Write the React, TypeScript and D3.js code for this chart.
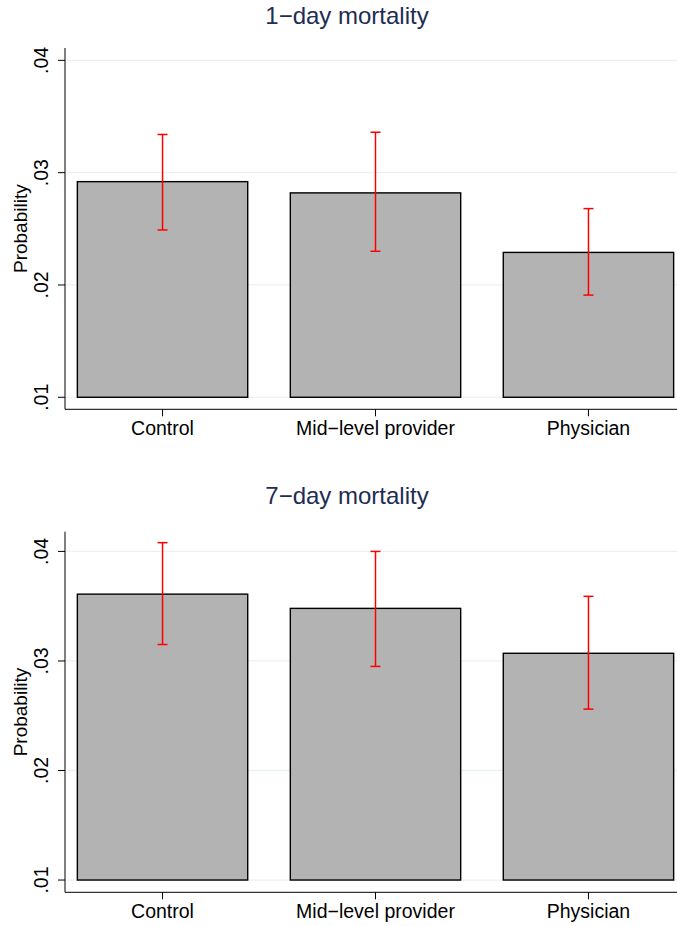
import React from "react";
import * as d3 from "d3";

const categories = ["Control", "Mid\u2212level provider", "Physician"];
const panelTitles = ["1\u2212day mortality", "7\u2212day mortality"];
const day1Mean = [0.0292, 0.0282, 0.0229];
const day1Lower = [0.0249, 0.0230, 0.0191];
const day1Upper = [0.0334, 0.0336, 0.0268];
const day7Mean = [0.0361, 0.0348, 0.0307];
const day7Lower = [0.0315, 0.0295, 0.0256];
const day7Upper = [0.0408, 0.0400, 0.0359];
const yTicks = [0.01, 0.02, 0.03, 0.04];
const yTickLabels = [".01", ".02", ".03", ".04"];
const yAxisTitle = "Probability";

const FONT = "'Liberation Sans', Arial, Helvetica, sans-serif";

type PanelProps = {
  title: string;
  mean: number[];
  lower: number[];
  upper: number[];
  titleY: number;
  axisTop: number;
  axisBottom: number;
  domain: [number, number];
};

function Panel({ title, mean, lower, upper, titleY, axisTop, axisBottom, domain }: PanelProps) {
  const left = 65;
  const right = 677;
  const x = d3.scaleBand<string>().domain(categories).range([65, 686]).paddingInner(0.2).paddingOuter(0.058);
  const y = d3.scaleLinear().domain(domain).range([axisBottom, axisTop]);
  const base = 0.01;
  const cap = 5;
  return (
    <g>
      <text x={347} y={titleY} textAnchor="middle" fontSize={24} fill="#1e2d53" fontFamily={FONT}>
        {title}
      </text>
      {yTicks.map((t) => (
        <line key={"g" + t} x1={left} x2={right} y1={y(t)} y2={y(t)} stroke="#eaf2f3" strokeWidth={1.3} />
      ))}
      {categories.map((c, i) => (
        <rect
          key={"b" + c}
          x={x(c)!}
          y={y(mean[i])}
          width={x.bandwidth()}
          height={y(base) - y(mean[i])}
          fill="#b3b3b3"
          stroke="#000"
          strokeWidth={1.4}
        />
      ))}
      {categories.map((c, i) => {
        const cx = x(c)! + x.bandwidth() / 2;
        return (
          <g key={"e" + c} stroke="#ff0000" strokeWidth={1.5}>
            <line x1={cx} x2={cx} y1={y(lower[i])} y2={y(upper[i])} />
            <line x1={cx - cap} x2={cx + cap} y1={y(lower[i])} y2={y(lower[i])} />
            <line x1={cx - cap} x2={cx + cap} y1={y(upper[i])} y2={y(upper[i])} />
          </g>
        );
      })}
      <line x1={left} x2={left} y1={axisTop} y2={axisBottom} stroke="#000" strokeWidth={1} />
      <line x1={left} x2={right} y1={axisBottom} y2={axisBottom} stroke="#000" strokeWidth={1} />
      {yTicks.map((t, i) => (
        <g key={"t" + t}>
          <line x1={left - 7} x2={left} y1={y(t)} y2={y(t)} stroke="#000" strokeWidth={1} />
          <text
            transform={`translate(48,${y(t)}) rotate(-90)`}
            textAnchor="middle"
            fontSize={19.5}
            fill="#000"
            fontFamily={FONT}
          >
            {yTickLabels[i]}
          </text>
        </g>
      ))}
      <text
        transform={`translate(27,${(axisTop + axisBottom) / 2}) rotate(-90)`}
        textAnchor="middle"
        fontSize={19}
        fill="#000"
        fontFamily={FONT}
      >
        {yAxisTitle}
      </text>
      {categories.map((c) => {
        const cx = x(c)! + x.bandwidth() / 2;
        return (
          <g key={"x" + c}>
            <line x1={cx} x2={cx} y1={axisBottom} y2={axisBottom + 7} stroke="#000" strokeWidth={1} />
            <text x={cx} y={axisBottom + 26} textAnchor="middle" fontSize={19.5} fill="#000" fontFamily={FONT}>
              {c}
            </text>
          </g>
        );
      })}
    </g>
  );
}

export default function App() {
  return (
    <svg
      width={677}
      height={926}
      style={{ position: "absolute", left: 0, top: 0, background: "#fff" }}
    >
      <rect x={0} y={0} width={677} height={926} fill="#fff" />
      <Panel
        title={panelTitles[0]}
        mean={day1Mean}
        lower={day1Lower}
        upper={day1Upper}
        titleY={23.5}
        axisTop={48}
        axisBottom={409.3}
        domain={[0.00893, 0.0411]}
      />
      <Panel
        title={panelTitles[1]}
        mean={day7Mean}
        lower={day7Lower}
        upper={day7Upper}
        titleY={503.5}
        axisTop={531.7}
        axisBottom={892.3}
        domain={[0.00888, 0.0418]}
      />
    </svg>
  );
}
